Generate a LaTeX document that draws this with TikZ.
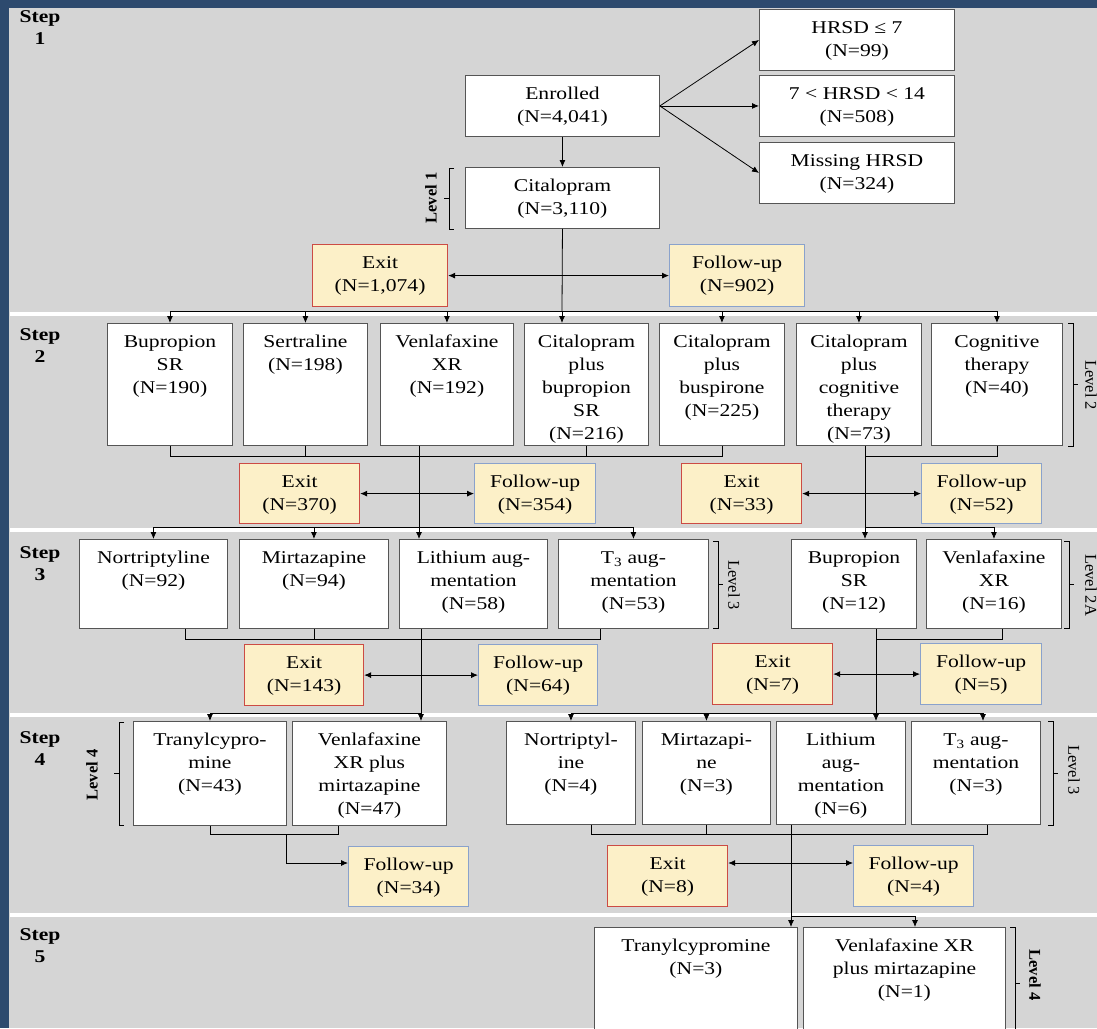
\documentclass[tikz,border=0pt]{standalone}
\usepackage{fontspec}
\setmainfont{Liberation Serif}[FakeStretch=1.2]
\newfontfamily\lvlfont{Liberation Serif}
\usetikzlibrary{arrows.meta}
\definecolor{bgblue}{HTML}{2D4A6E}
\definecolor{panel}{HTML}{D5D5D5}
\definecolor{exitfill}{HTML}{FCF0C8}
\definecolor{exitred}{HTML}{CC4B44}
\definecolor{fublue}{HTML}{8AA2CC}
\definecolor{boxline}{HTML}{555555}

% box with its text set from the top: name, style, x1, y1, x2, y2, text
\newcommand\stepbox[7]{%
  \pgfmathsetmacro\bxw{#5-#3}%
  \pgfmathsetmacro\bxh{#6-#4}%
  \node[#2, anchor=north west] (#1) at (#3,#4)
    {\parbox[t][\bxh pt][t]{\bxw pt}{\centering\rule{0pt}{24pt}#7}};}

\begin{document}
\begin{tikzpicture}[x=1pt,y=-1pt,line width=0.8pt,
    tbox/.style={draw=boxline, fill=white, line width=0.9pt, inner sep=0pt,
      font=\fontsize{18}{23}\selectfont},
    exitbox/.style={tbox, fill=exitfill, draw=exitred, line width=1.2pt},
    fubox/.style={tbox, fill=exitfill, draw=fublue, line width=1.2pt},
    arr/.style={-{Latex[length=7pt,width=6pt]}},
    dbl/.style={{Latex[length=7pt,width=6pt]}-{Latex[length=7pt,width=6pt]}},
    steplbl/.style={font=\bfseries\fontsize{18}{22}\selectfont, align=center},
    lvl/.style={font=\lvlfont\fontsize{16.5}{18}\selectfont}]
  \clip (0,0) rectangle (1097,1028);
  \fill[bgblue] (0,0) rectangle (1097,1028);
  \fill[panel] (9,8) rectangle (1097,1028);
  \foreach \y in {313.5,530,715,914.5}
    \draw[white, line width=4pt] (10,\y) -- (1097,\y);

  % step labels
  \foreach \n/\y in {1/28,2/346,3/564,4/749,5/946}
    \node[steplbl] (step\n) at (40,\y) {Step\\\n};

  % step 1
  \stepbox{enr}{tbox}{465}{75}{659}{136}{Enrolled\\(N=4,041)}
  \stepbox{hrsdA}{tbox}{759}{9}{954}{70}{HRSD ≤ 7\\(N=99)}
  \stepbox{hrsdB}{tbox}{759}{75}{954}{136}{7 < HRSD < 14\\(N=508)}
  \stepbox{hrsdC}{tbox}{759}{142}{954}{203}{Missing HRSD\\(N=324)}
  \stepbox{cit}{tbox}{465}{167}{659}{228}{Citalopram\\(N=3,110)}
  \stepbox{exA}{exitbox}{312}{244}{447}{306}{Exit\\(N=1,074)}
  \stepbox{fuA}{fubox}{669}{244}{804}{306}{Follow-up\\(N=902)}

  % step 2
  \stepbox{bup2}{tbox}{107}{323}{232}{445}{Bupropion\\SR\\(N=190)}
  \stepbox{ser2}{tbox}{243}{323}{367}{445}{Sertraline\\(N=198)}
  \stepbox{ven2}{tbox}{380}{323}{513}{445}{Venlafaxine\\XR\\(N=192)}
  \stepbox{cbp2}{tbox}{524}{323}{648}{445}{Citalopram\\plus\\bupropion\\SR\\(N=216)}
  \stepbox{cbs2}{tbox}{659}{323}{784}{445}{Citalopram\\plus\\buspirone\\(N=225)}
  \stepbox{ccg2}{tbox}{796}{323}{921}{445}{Citalopram\\plus\\cognitive\\therapy\\(N=73)}
  \stepbox{cog2}{tbox}{931}{323}{1062}{445}{Cognitive\\therapy\\(N=40)}
  \stepbox{exB}{exitbox}{239}{463}{359}{523}{Exit\\(N=370)}
  \stepbox{fuB}{fubox}{474}{463}{595}{523}{Follow-up\\(N=354)}
  \stepbox{exC}{exitbox}{681}{463}{801}{523}{Exit\\(N=33)}
  \stepbox{fuC}{fubox}{921}{463}{1041}{523}{Follow-up\\(N=52)}

  % step 3
  \stepbox{nor3}{tbox}{79}{539}{227}{628}{Nortriptyline\\(N=92)}
  \stepbox{mir3}{tbox}{239}{539}{388}{628}{Mirtazapine\\(N=94)}
  \stepbox{lit3}{tbox}{399}{539}{547}{628}{Lithium aug-\\mentation\\(N=58)}
  \stepbox{t33}{tbox}{558}{539}{708}{628}{T\textsubscript{3} aug-\\mentation\\(N=53)}
  \stepbox{bup3}{tbox}{791}{539}{916}{628}{Bupropion\\SR\\(N=12)}
  \stepbox{vxr3}{tbox}{926}{539}{1061}{628}{Venlafaxine\\XR\\(N=16)}
  \stepbox{exD}{exitbox}{244}{644}{363}{705}{Exit\\(N=143)}
  \stepbox{fuD}{fubox}{478}{644}{597}{705}{Follow-up\\(N=64)}
  \stepbox{exE}{exitbox}{712}{643}{832}{704}{Exit\\(N=7)}
  \stepbox{fuE}{fubox}{920}{643}{1041}{704}{Follow-up\\(N=5)}

  % step 4
  \stepbox{try4}{tbox}{133}{721}{286}{825}{Tranylcypro-\\mine\\(N=43)}
  \stepbox{vxm4}{tbox}{292}{721}{446}{825}{Venlafaxine\\XR plus\\mirtazapine\\(N=47)}
  \stepbox{nor4}{tbox}{506}{721}{635}{824}{Nortriptyl-\\ine\\(N=4)}
  \stepbox{mir4}{tbox}{642}{721}{770}{824}{Mirtazapi-\\ne\\(N=3)}
  \stepbox{lit4}{tbox}{776}{721}{905}{824}{Lithium\\aug-\\mentation\\(N=6)}
  \stepbox{t34}{tbox}{911}{721}{1040}{824}{T\textsubscript{3} aug-\\mentation\\(N=3)}
  \stepbox{fu34}{fubox}{348}{846}{468}{906}{Follow-up\\(N=34)}
  \stepbox{exF}{exitbox}{607}{845}{727}{906}{Exit\\(N=8)}
  \stepbox{fuF}{fubox}{853}{845}{973}{906}{Follow-up\\(N=4)}

  % step 5
  \stepbox{try5}{tbox}{594}{927}{797}{1045}{Tranylcypromine\\(N=3)}
  \stepbox{vxm5}{tbox}{803}{927}{1005}{1045}{Venlafaxine XR\\plus mirtazapine\\(N=1)}

  % levels
  \foreach \x/\ya/\yb in {449/168/229, 119/722/825}
    \draw (\x+5,\ya) -- (\x,\ya) -- (\x,\yb) -- (\x+5,\yb)
      (\x,{(\ya+\yb)/2}) -- (\x-5,{(\ya+\yb)/2});
  \foreach \x/\ya/\yb in {1073/323/446, 718/541/628, 1069/541/628, 1053/721/825, 1015/927/1040}
    \draw (\x-5,\ya) -- (\x,\ya) -- (\x,\yb) -- (\x-5,\yb)
      (\x,{(\ya+\yb)/2}) -- (\x+5,{(\ya+\yb)/2});
  \node[lvl, rotate=90] (lv1) at (431,198) {\bfseries Level 1};
  \node[lvl, rotate=-90] (lv2) at (1091,385) {Level 2};
  \node[lvl, rotate=-90] (lv3) at (734,585) {Level 3};
  \node[lvl, rotate=-90] (lv2a) at (1091,585) {Level 2A};
  \node[lvl, rotate=90] (lv4) at (92,775) {\bfseries Level 4};
  \node[lvl, rotate=-90] (lv3b) at (1074,770) {Level 3};
  \node[lvl, rotate=-90] (lv4b) at (1035,975) {\bfseries Level 4};

  % step 1 connectors
  \draw[arr] (enr.south) -- (cit.north);
  \foreach \h in {hrsdA,hrsdB,hrsdC} \draw[arr] (enr.east) -- (\h.west);
  \draw[dbl] (exA.east) -- (fuA.west);
  \coordinate (j2) at (562,311);
  \draw (cit.south) -- (j2);
  \draw (bup2.north |- j2) -- (cog2.north |- j2);
  \foreach \b in {bup2,ser2,ven2,cbs2,ccg2,cog2} \draw[arr] (\b.north |- j2) -- (\b.north);
  \draw[arr] (j2) -- (cbp2.north -| j2);

  % step 2 connectors
  \coordinate (b2) at (0,456);
  \coordinate (j3) at (419,527);
  \coordinate (k3) at (865,527);
  \draw (bup2.south) |- (cbs2.south |- b2) -- (cbs2.south);
  \draw (ser2.south) -- (ser2.south |- b2);
  \draw (cbp2.south) -- (cbp2.south |- b2);
  \draw (cog2.south) |- (k3 |- b2);
  \draw (ven2.south -| j3) -- (j3);
  \draw (ccg2.south -| k3) -- (k3);
  \draw[dbl] (exB.east) -- (fuB.west);
  \draw[dbl] (exC.east) -- (fuC.west);
  \draw (nor3.north |- j3) -- (t33.north |- j3);
  \foreach \b in {nor3,mir3,t33} \draw[arr] (\b.north |- j3) -- (\b.north);
  \draw[arr] (j3) -- (lit3.north -| j3);
  \draw (k3) -- (vxr3.north |- k3);
  \draw[arr] (k3) -- (bup3.north -| k3);
  \draw[arr] (vxr3.north |- k3) -- (vxr3.north);

  % step 3 connectors
  \coordinate (b3a) at (185,639);
  \coordinate (b3b) at (600,639);
  \coordinate (b3c) at (1002,639);
  \coordinate (j4) at (421,713);
  \coordinate (k4) at (876,713);
  \draw (nor3.south -| b3a) -- (b3a) -- (b3b) -- (t33.south -| b3b);
  \draw (mir3.south) -- (mir3.south |- b3a);
  \draw (lit3.south -| j4) -- (j4);
  \draw (bup3.south -| k4) -- (k4);
  \draw (k4 |- b3c) -- (b3c) -- (vxr3.south -| b3c);
  \draw[dbl] (exD.east) -- (fuD.west);
  \draw[dbl] (exE.east) -- (fuE.west);
  \draw (try4.north |- j4) -- (j4);
  \draw[arr] (try4.north |- j4) -- (try4.north);
  \draw[arr] (j4) -- (vxm4.north -| j4);
  \coordinate (k4b) at (983,713);
  \draw (nor4.north |- k4) -- (k4b);
  \foreach \b in {nor4,mir4} \draw[arr] (\b.north |- k4) -- (\b.north);
  \draw[arr] (k4) -- (lit4.north -| k4);
  \draw[arr] (k4b) -- (t34.north -| k4b);

  % step 4 connectors
  \coordinate (b4a) at (338,834);
  \coordinate (m4) at (286,834);
  \coordinate (t4) at (286,863);
  \draw (try4.south) |- (b4a) -- (vxm4.south -| b4a);
  \draw[arr] (m4) -- (t4) -- (fu34.west |- t4);
  \coordinate (b4b) at (591,834);
  \coordinate (b4c) at (987,834);
  \draw (nor4.south -| b4b) -- (b4b) -- (b4c) -- (t34.south -| b4c);
  \draw (mir4.south) -- (mir4.south |- b4b);
  \draw[dbl] (exF.east |- t4) -- (fuF.west |- t4);
  \coordinate (j5) at (791,916);
  \coordinate (k5) at (915,916);
  \draw[arr] (lit4.south -| j5) -- (try5.north -| j5);
  \draw[arr] (j5) -- (k5) -- (vxm5.north -| k5);
\end{tikzpicture}
\end{document}
